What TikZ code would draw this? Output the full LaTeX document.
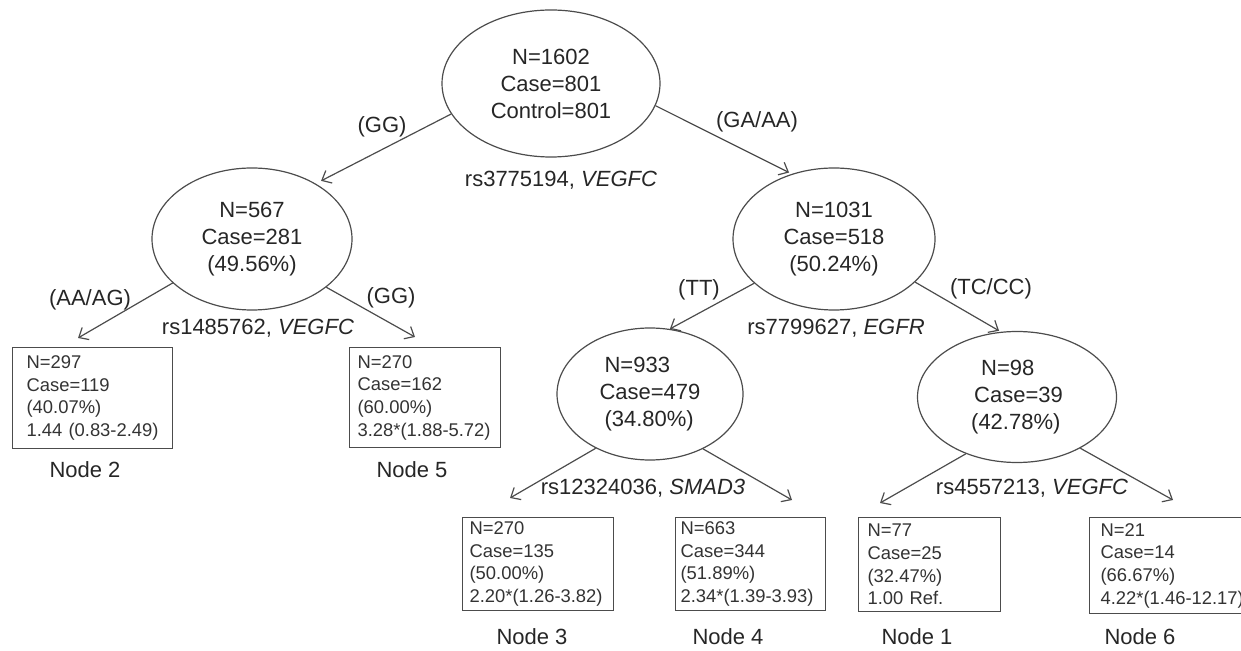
\documentclass[tikz,border=0pt]{standalone}
\usepackage{fontspec}
\setmainfont{Liberation Sans}
\usetikzlibrary{shapes.geometric,arrows.meta}

\tikzset{
  split/.style={draw=black!70, line width=0.6pt, ellipse, inner sep=0pt, align=center,
    text=black!85, font=\fontsize{11}{13.5}\selectfont},
  leaf/.style={draw=black!70, line width=0.6pt, rectangle, anchor=north west, align=left,
    inner ysep=0pt, text=black!80, font=\fontsize{9.2}{11.35}\selectfont},
  branch/.style={draw=black!70, line width=0.6pt, -{Straight Barb[length=4pt,width=7pt]}},
  lab/.style={text=black!85, font=\fontsize{11}{13.5}\selectfont, inner sep=0pt},
}

\begin{document}
\begin{tikzpicture}[x=0.5pt, y=-0.5pt]
	\useasboundingbox (0,0) rectangle (1241,651);

	% splitting nodes
	\node[split, minimum width=109pt, minimum height=73.5pt] (root) at (551,83.5) {N=1602\\Case=801\\Control=801};
	\node[split, minimum width=100pt, minimum height=71pt] (e567) at (252,239) {N=567\\Case=281\\(49.56\%)};
	\node[split, minimum width=101pt, minimum height=71pt] (e1031) at (834,239) {N=1031\\Case=518\\(50.24\%)};
	\node[split, minimum width=93pt, minimum height=66pt, align=left] (e933) at (650,394) {\hspace{2.5pt}N=933\\Case=479\\\hspace{2.5pt}(34.80\%)};
	\node[split, minimum width=99.5pt, minimum height=65.5pt, align=left] (e98) at (1017,397) {\hspace{5pt}N=98\\\hspace{1.5pt}Case=39\\(42.78\%)};

	% terminal nodes
	\node[leaf, text width=66pt, inner xsep=7pt, minimum height=50.5pt] (n2) at (12,347) {N=297\\Case=119\\(40.07\%)\\1.44 (0.83-2.49)};
	\node[leaf, text width=67.5pt, inner xsep=4pt, minimum height=50pt] (n5) at (349,347) {N=270\\Case=162\\(60.00\%)\\3.28*(1.88-5.72)};
	\node[leaf, text width=68.5pt, inner xsep=3.5pt, minimum height=46.5pt] (n3) at (462,517) {N=270\\Case=135\\(50.00\%)\\2.20*(1.26-3.82)};
	\node[leaf, text width=70pt, inner xsep=2.5pt, minimum height=46.5pt] (n4) at (675,517) {N=663\\Case=344\\(51.89\%)\\2.34*(1.39-3.93)};
	\node[leaf, text width=62pt, inner xsep=4.5pt, minimum height=47pt] (n1) at (858,517) {N=77\\Case=25\\(32.47\%)\\1.00 Ref.};
	\node[leaf, text width=72pt, inner xsep=5.5pt, minimum height=48pt] (n6) at (1089,517) {N=21\\Case=14\\(66.67\%)\\4.22*(1.46-12.17)};

	\node[lab] (c2) at (85,470) {Node 2};
	\node[lab] (c5) at (412,470) {Node 5};
	\node[lab] (c3) at (532,637) {Node 3};
	\node[lab] (c4) at (728,637) {Node 4};
	\node[lab] (c1) at (917,637) {Node 1};
	\node[lab] (c6) at (1140,637) {Node 6};

	% arrow ends above the boxes
	\coordinate (t2) at (78,338);
	\coordinate (t5) at (415,337);
	\coordinate (t3) at (510,498);
	\coordinate (t4) at (792,500);
	\coordinate (t1) at (880,503);
	\coordinate (t6) at (1173,500);

	\draw[branch, shorten >=3pt] (root.197) -- (e567.41);
	\draw[branch, shorten >=1.5pt] (root.348) -- (e1031.123);
	\draw[branch] (e567.209) -- (t2);
	\draw[branch] (e567.327) -- (t5);
	\draw[branch] (e1031.209) -- (e933.73);
	\draw[branch, shorten >=1pt] (e1031.332) -- (e98.104);
	\draw[branch] (e933.225) -- (t3);
	\draw[branch] (e933.314) -- (t4);
	\draw[branch] (e98.228) -- (t1);
	\draw[branch] (e98.321) -- (t6);

	% genotypes and SNPs
	\node[lab] (g1) at (382,127) {(GG)};
	\node[lab] (g2) at (757,122) {(GA/AA)};
	\node[lab] (s1) at (561,180) {rs3775194, \textit{VEGFC}};
	\node[lab] (g3) at (90,300) {(AA/AG)};
	\node[lab] (g4) at (391,298) {(GG)};
	\node[lab] (s2) at (258,328) {rs1485762, \textit{VEGFC}};
	\node[lab] (g5) at (699,290) {(TT)};
	\node[lab] (g6) at (991,289) {(TC/CC)};
	\node[lab] (s3) at (836,328) {rs7799627, \textit{EGFR}};
	\node[lab] (s4) at (643,488) {rs12324036, \textit{SMAD3}};
	\node[lab] (s5) at (1032,488) {rs4557213, \textit{VEGFC}};

\end{tikzpicture}
\end{document}
